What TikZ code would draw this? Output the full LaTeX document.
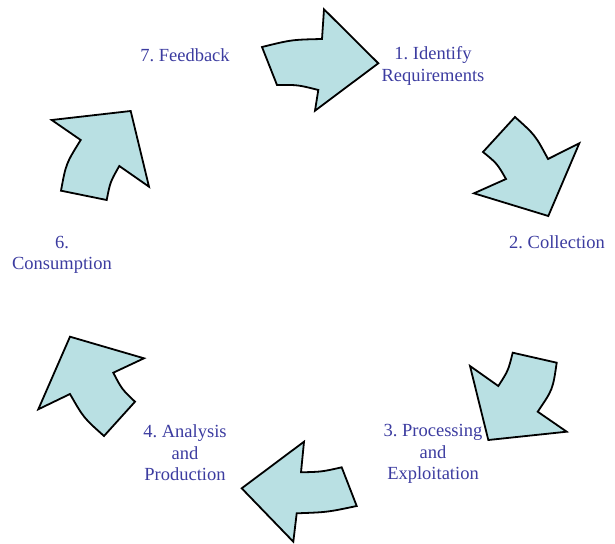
\documentclass[tikz,border=0pt]{standalone}
\usepackage{fontspec}
\setmainfont{Liberation Serif}
\frenchspacing
\definecolor{arrowfill}{RGB}{185,224,227}
\definecolor{labelblue}{RGB}{60,60,160}
\tikzset{
  blockarrow/.style={draw=black, fill=arrowfill, line width=1.8pt, line join=miter},
  lab/.style={text=labelblue, align=center, inner sep=0pt, font=\fontsize{18.5}{21.5}\selectfont}
}
\begin{document}
\begin{tikzpicture}[x=1pt,y=-1pt]
\useasboundingbox (0,0) rectangle (615,543);
% arrow 1 (top)
\draw[blockarrow] (262,47) .. controls (291.6,39.7) .. (322,39) -- (324,9.3) -- (378.3,63.3) -- (315,110.7) -- (318.3,90) .. controls (297.8,84.8) .. (277,85) -- cycle;
% arrow 2 (upper right)
\draw[blockarrow] (515,117) .. controls (535.2,135.1) .. (548,159) -- (579.3,143.3) -- (548.3,216) -- (474,193.3) -- (506,179) .. controls (497,163.4) .. (483,152) -- cycle;
% arrow 3 (lower right)
\draw[blockarrow] (512.7,352.7) -- (556.7,362.7) .. controls (552.8,389.5) .. (537.7,411.7) -- (566.7,431.7) -- (488.3,440) -- (470,366) -- (498.3,386) .. controls (508.2,370.7) .. cycle;
% arrow 4 (bottom)
\draw[blockarrow] (341.7,467.3) .. controls (321.8,471.8) .. (301,472.3) -- (304,441.7) -- (241.7,488.3) -- (293.3,541.7) -- (296.7,513.3) .. controls (327.3,512.2) .. (356.7,506) -- cycle;
% arrow 5 (lower left)
\draw[blockarrow] (70,336.7) -- (144,358.3) -- (113.3,372.7) .. controls (121.8,389.1) .. (135,401.7) -- (104,436) .. controls (83.6,417.8) .. (70,394) -- (38.3,409.3) -- cycle;
% arrow 6 (upper left)
\draw[blockarrow] (51.7,120) -- (130.7,111) -- (149,186.7) -- (119.3,166) .. controls (110.2,182) .. (106.7,200) -- (61,190.7) .. controls (66,163.6) .. (80.7,140) -- cycle;
% labels
\node[lab] (l1) at (433,66) {1. Identify\\Requirements};
\node[lab] (l2) at (557,242) {2. Collection};
\node[lab] (l3) at (433,454) {3. Processing\\and\\Exploitation};
\node[lab] (l4) at (185,453) {4. Analysis\\and\\Production};
\node[lab] (l6) at (62,255) {6.\\Consumption};
\node[lab] (l7) at (185,55) {7. Feedback};
\end{tikzpicture}
\end{document}
